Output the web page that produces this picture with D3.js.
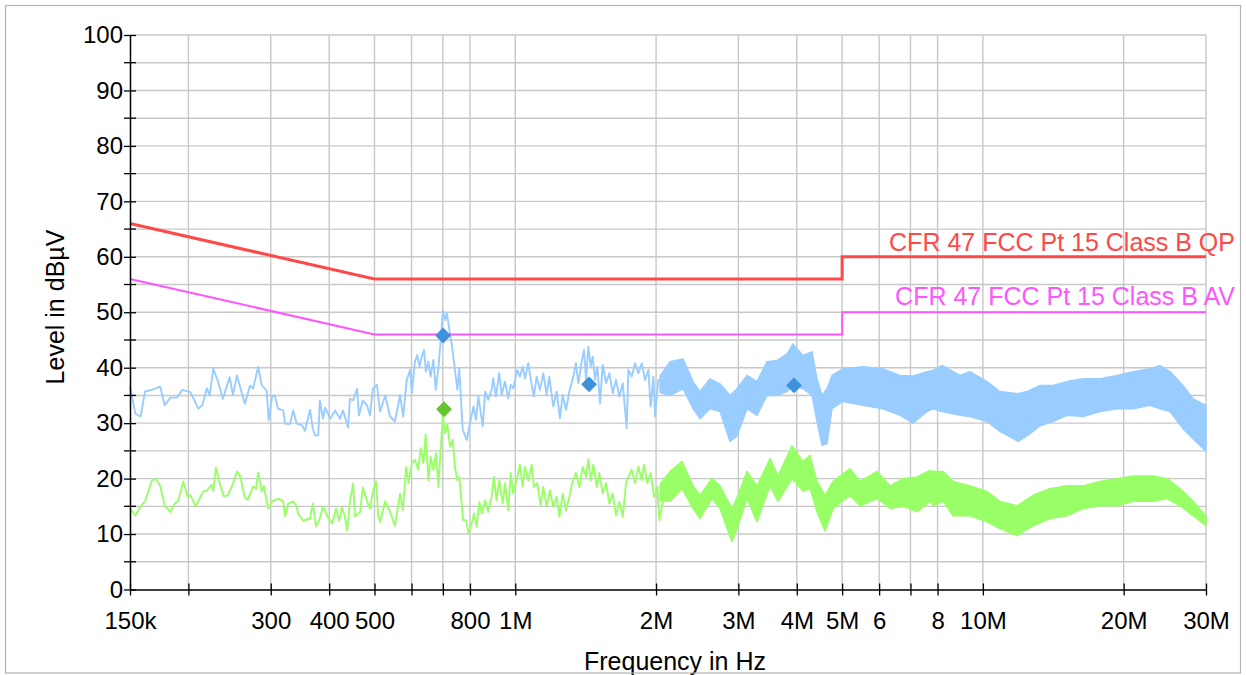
<!DOCTYPE html>
<html><head><meta charset="utf-8">
<script src="https://cdn.jsdelivr.net/npm/d3@7"></script>
<style>
body{margin:0;background:#fff}
svg{display:block;font-family:"Liberation Sans",Arial,sans-serif}
</style>
</head><body>
<svg id="chart" width="1246" height="675"></svg>
<script>
// ---- data (frequency in kHz, level in dBµV) ----
const xTickValues = [150,200,300,400,500,600,700,800,1000,2000,3000,4000,5000,6000,7000,8000,10000,20000,30000];
const xTickLabels = ["150k","","300","400","500","","","800","1M","2M","3M","4M","5M","6","","8","10M","20M","30M"];
const yTickValues = [0,10,20,30,40,50,60,70,80,90,100];
const yMinorValues = [5,15,25,35,45,55,65,75,85,95];

const qpLimit = [[150,66],[500,56],[5000,56],[5000,60],[30000,60]];
const avLimit = [[150,56],[500,46],[5000,46],[5000,50],[30000,50]];

const peakTrace = [
[150,36.6],[154,31.7],[158,31.2],[161.5,35.7],[167,36.0],[174,36.6],[178,33.2],[183,34.6],[189,34.6],[194,36.0],
[202,35.6],[210,32.6],[214,33.2],[219,36.3],[222,35.0],[226,39.8],[231,37.7],[237,34.4],[245,38.3],[249,35.1],
[254,38.6],[264,33.5],[271,36.8],[275,36.2],[282,40.2],[287,36.8],[294,35.9],[297,30.5],[302,34.8],[306,35.0],
[311,32.6],[319,32.3],[322,29.9],[330,29.9],[335,32.3],[341,29.9],[350,29.6],[355,28.6],[364,32.4],[369,29.0],
[373,27.8],[379,27.8],[382,34.1],[388,30.8],[392,32.8],[402,30.8],[412,32.3],[422,30.8],[428,32.3],[439,29.2],
[443,34.4],[450,34.1],[459,36.2],[463,31.4],[472,34.1],[482,33.2],[489,31.4],[496,36.2],[506,36.9],[514,32.1],
[527,35.0],[540,31.2],[553,30.3],[567,35.1],[576,31.2],[586,37.8],[596,39.6],[601,35.4],[610,41.1],[617,42.3],
[624,40.2],[631,42.0],[638,43.2],[644,39.3],[652,41.1],[659,38.4],[668,41.4],[676,36.0],[685,40.2],[693,45.0],
[700,50.4],[708,48.6],[714,49.8],[723,46.8],[731,44.4],[743,39.6],[752,36.0],[759,39.9],[772,28.8],[788,27.0],
[800,30.0],[814,33.0],[824,30.6],[834,34.8],[852,29.4],[862,35.7],[875,34.2],[890,36.0],[897,38.1],[909,34.8],
[924,39.0],[935,35.1],[951,37.5],[966,34.5],[978,36.9],[990,36.3],[1010,39.6],[1023,38.4],[1037,40.2],[1049,38.1],
[1066,40.8],[1084,36.9],[1096,34.8],[1111,38.4],[1129,36.0],[1148,39.0],[1167,35.1],[1182,38.4],[1206,33.0],[1226,35.7],
[1246,30.9],[1263,35.1],[1284,32.4],[1305,35.7],[1331,38.4],[1348,40.8],[1364,37.2],[1387,41.1],[1403,43.2],[1417,37.8],
[1433,43.8],[1450,40.2],[1464,42.0],[1481,37.8],[1498,40.2],[1518,33.6],[1538,40.5],[1564,37.2],[1589,39.0],[1616,35.4],
[1642,37.8],[1669,34.8],[1698,37.2],[1717,32.4],[1731,29.1],[1745,39.6],[1774,38.4],[1804,40.8],[1833,39.0],[1864,40.8],
[1895,37.8],[1926,39.6],[1948,33.0],[1974,38.4],[1990,31.2],[2023,37.8],[2060,37.5],[2111,36.2]
];

// dense part of the peak trace: [freq, upper edge, lower edge]
const peakBand = [
[2040,38.5,35.5],[2143,41.1,35.0],[2284,41.6,36.2],[2400,37.5,32.6],[2484,35.7,30.8],[2609,38.0,32.6],
[2740,37.1,32.1],[2879,35.0,26.7],[2979,36.2,27.7],[3130,38.6,32.6],[3288,37.5,31.4],[3453,41.1,35.0],[3628,41.3,35.0],
[3812,42.5,35.7],[3926,44.3,36.8],[4124,42.2,36.2],[4311,42.9,35.0],[4418,38.0,30.3],[4529,35.0,26.0],[4642,36.2,26.3],
[4757,38.6,32.6],[5022,39.8,33.9],[5543,40.2,33.2],[6116,39.8,32.6],[6651,38.6,31.4],[7090,38.5,30.0],[7597,39.3,32.1],
[7824,39.5,32.6],[8179,40.4,32.1],[8934,38.6,31.4],[9384,39.3,31.2],[10204,37.5,30.3],[10878,35.7,28.5],[11887,35.3,26.7],
[12426,35.7,27.7],[13247,36.8,29.5],[14123,36.8,30.3],[15136,37.5,31.4],[16376,38.0,31.2],[17806,38.0,32.1],[19360,38.6,32.6],
[20948,39.3,32.6],[22776,39.8,33.2],[23926,40.4,32.6],[25125,39.3,32.1],[26787,36.8,29.0],[28140,34.4,27.2],[30000,33.2,24.9]
];

const avgTrace = [
[150,14.6],[154,13.3],[158,15.0],[161.5,15.9],[167,19.6],[170,20.0],[174,18.7],[178,15.1],[183,14.0],[187,15.5],
[190,15.9],[195,19.5],[199,16.8],[202,17.0],[207,15.0],[210,15.9],[215,17.7],[219,17.8],[224,18.9],[226,17.8],
[229,22.0],[234,18.7],[238,16.8],[243,17.0],[249,19.1],[254,21.3],[258,20.5],[264,16.6],[268,16.2],[275,18.6],
[279,18.2],[282,21.1],[287,17.7],[290,18.7],[296,14.6],[302,15.9],[311,16.4],[319,15.9],[322,13.2],[327,15.5],
[335,15.9],[341,15.0],[343,13.7],[352,12.4],[364,12.8],[369,15.5],[375,11.4],[382,12.8],[388,15.0],[396,13.3],
[406,11.9],[414,14.6],[420,12.4],[426,14.8],[432,13.2],[437,10.6],[443,15.9],[450,19.1],[454,13.2],[466,14.0],
[472,18.4],[482,15.9],[489,14.6],[496,17.7],[504,19.5],[509,13.3],[514,12.2],[527,15.9],[540,14.0],[553,11.5],
[567,17.3],[575,14.3],[584,22.1],[591,19.2],[601,22.8],[610,23.4],[620,21.6],[628,25.5],[636,22.8],[643,27.9],
[652,19.7],[659,24.0],[668,21.6],[677,24.6],[685,18.5],[693,25.8],[700,31.2],[708,28.2],[716,29.7],[725,25.8],
[735,27.0],[743,22.1],[752,19.7],[759,20.3],[767,16.1],[774,12.5],[785,12.5],[794,10.1],[807,11.9],[816,13.7],
[827,11.3],[838,15.8],[848,13.7],[862,16.1],[875,14.0],[890,16.7],[900,20.3],[912,16.1],[924,19.7],[940,15.5],
[951,19.2],[966,14.3],[978,21.0],[990,17.3],[1007,19.7],[1023,22.5],[1037,18.5],[1049,22.1],[1066,19.7],[1084,22.5],
[1096,18.5],[1114,19.2],[1133,15.2],[1148,18.5],[1167,14.9],[1186,17.9],[1206,14.9],[1226,16.7],[1243,13.1],[1263,17.3],
[1284,14.3],[1305,16.7],[1323,19.2],[1348,21.0],[1371,18.5],[1394,22.1],[1417,20.3],[1433,23.5],[1450,19.7],[1469,22.5],
[1494,18.5],[1513,21.0],[1538,17.3],[1564,19.2],[1589,15.5],[1616,17.3],[1642,13.4],[1669,15.8],[1698,13.1],[1725,19.2],
[1745,20.3],[1774,21.6],[1804,19.2],[1833,22.1],[1864,19.7],[1885,22.5],[1916,19.2],[1948,21.0],[1980,16.7],[2013,18.5],
[2033,12.5],[2091,18.2]
];

const avgBand = [
[2040,19.0,16.0],[2143,21.3,15.9],[2273,23.1,18.2],[2400,18.7,14.6],[2484,17.0,12.8],[2634,20.0,16.4],
[2740,18.7,14.6],[2907,14.6,8.6],[2994,17.0,11.5],[3130,21.3,16.4],[3288,18.7,12.2],[3506,23.6,18.7],[3646,20.5,15.9],
[3906,25.9,20.0],[4124,23.1,17.7],[4268,24.2,18.2],[4418,19.5,14.0],[4597,17.0,10.5],[4781,19.5,14.6],[5199,21.8,17.0],
[5462,19.5,15.1],[5938,21.3,16.4],[6332,18.7,14.6],[6749,20.0,15.0],[7232,20.3,14.0],[7710,21.5,15.9],[7824,21.3,15.1],
[8220,21.3,15.9],[8631,19.5,13.3],[9384,18.7,13.3],[10204,17.7,12.2],[10878,15.9,11.0],[11828,15.1,9.7],[12798,17.0,11.5],
[13916,18.2,12.8],[15136,18.7,13.3],[16376,18.7,14.6],[17806,19.5,15.1],[19360,20.0,15.1],[20948,20.5,15.9],[23116,20.5,15.9],
[24759,20.0,16.4],[26394,18.2,15.1],[28140,15.9,13.3],[30000,13.3,11.5]
];

const peakMarkers = [[701,45.8],[1438,37.0],[3945,36.8]];
const avgMarkers = [[704,32.5]];

const limitLabels = ["CFR 47 FCC Pt 15 Class B QP","CFR 47 FCC Pt 15 Class B AV"];
const limitLabelLevels = [60,50];

// ---- drawing ----
const svg = d3.select("#chart");
const x = d3.scaleLog().domain([150,30000]).range([130,1206]);
const y = d3.scaleLinear().domain([0,100]).range([589.5,35]);

const gridColor = "#c8c8c8";
svg.append("g").selectAll("line").data(yTickValues.concat(yMinorValues).filter(v=>v>0)).join("line")
  .attr("x1",130).attr("x2",1206).attr("y1",d=>y(d)).attr("y2",d=>y(d))
  .attr("stroke",gridColor).attr("stroke-width",1.4);
svg.append("g").selectAll("line").data(xTickValues.slice(1)).join("line")
  .attr("x1",d=>x(d)).attr("x2",d=>x(d)).attr("y1",35).attr("y2",589.5)
  .attr("stroke",gridColor).attr("stroke-width",1.4);

// traces
const line = d3.line().x(d=>x(d[0])).y(d=>y(d[1]));
const band = d3.area().x(d=>x(d[0])).y0(d=>y(d[2])).y1(d=>y(d[1]));
const blue = "#99ccff", green = "#99ff66";

svg.append("path").datum(avgBand).attr("d",band).attr("fill",green).attr("stroke",green).attr("stroke-width",1.4).attr("stroke-linejoin","round");
svg.append("path").datum(avgTrace).attr("d",line).attr("fill","none").attr("stroke",green).attr("stroke-width",1.9).attr("stroke-linejoin","round");
svg.append("path").datum(peakBand).attr("d",band).attr("fill",blue).attr("stroke",blue).attr("stroke-width",1.4).attr("stroke-linejoin","round");
svg.append("path").datum(peakTrace).attr("d",line).attr("fill","none").attr("stroke",blue).attr("stroke-width",1.9).attr("stroke-linejoin","round");

// limit lines
svg.append("path").datum(avLimit).attr("d",line).attr("fill","none").attr("stroke","#ff55ff").attr("stroke-width",2);
svg.append("path").datum(qpLimit).attr("d",line).attr("fill","none").attr("stroke","#ff4848").attr("stroke-width",3);

// limit labels
const labelColors = ["#ff4848","#ff55ff"];
const labelOffsets = [5.5,7];
svg.append("g").selectAll("text").data(limitLabels).join("text")
  .attr("x",1235).attr("y",(d,i)=>y(limitLabelLevels[i])-labelOffsets[i])
  .attr("text-anchor","end").attr("font-size",25).attr("fill",(d,i)=>labelColors[i])
  .text(d=>d);

// markers
const diamond = d3.symbol().type(d3.symbolDiamond2).size(160);
svg.append("g").selectAll("path").data(peakMarkers).join("path")
  .attr("d",diamond).attr("transform",d=>`translate(${x(d[0])},${y(d[1])})`).attr("fill","#3d92da");
svg.append("g").selectAll("path").data(avgMarkers).join("path")
  .attr("d",diamond).attr("transform",d=>`translate(${x(d[0])},${y(d[1])})`).attr("fill","#62c630");

// axes
const xAxis = d3.axisBottom(x).tickValues(xTickValues)
  .tickFormat((d,i)=>xTickLabels[i]).tickSizeOuter(0);
const gx = svg.append("g").attr("transform","translate(0,589.5)").call(xAxis);
gx.select(".domain").attr("stroke","#000").attr("stroke-width",1.5);
gx.selectAll(".tick line").attr("y1",-6).attr("y2",6).attr("stroke","#000").attr("stroke-width",1.3);
gx.selectAll(".tick text").attr("y",22).attr("dy","0.71em").attr("font-size",24)
  .attr("font-family","'Liberation Sans',Arial,sans-serif").attr("fill","#000");

const yAxis = d3.axisLeft(y).tickValues(yTickValues).tickFormat(d=>d).tickSizeOuter(0);
const gy = svg.append("g").attr("transform","translate(130,0)").call(yAxis);
gy.select(".domain").attr("stroke","#000").attr("stroke-width",1.5);
gy.selectAll(".tick line").attr("x1",-6).attr("x2",6).attr("stroke","#000").attr("stroke-width",1.3);
gy.selectAll(".tick text").attr("x",-7).attr("font-size",24)
  .attr("font-family","'Liberation Sans',Arial,sans-serif").attr("fill","#000");
svg.append("g").selectAll("line").data(yMinorValues).join("line")
  .attr("x1",124).attr("x2",136).attr("y1",d=>y(d)).attr("y2",d=>y(d))
  .attr("stroke","#000").attr("stroke-width",1.3);

// axis titles
svg.append("text").attr("transform","translate(64,307) rotate(-90)")
  .attr("text-anchor","middle").attr("font-size",25).attr("fill","#000").text("Level in dBµV");
svg.append("text").attr("x",675).attr("y",670)
  .attr("text-anchor","middle").attr("font-size",25).attr("fill","#000").text("Frequency in Hz");

// outer frame
svg.append("rect").attr("x",5.5).attr("y",5.5).attr("width",1235).attr("height",667.5)
  .attr("fill","none").attr("stroke","#b4b4b4").attr("stroke-width",1.2);
</script>
</body></html>
